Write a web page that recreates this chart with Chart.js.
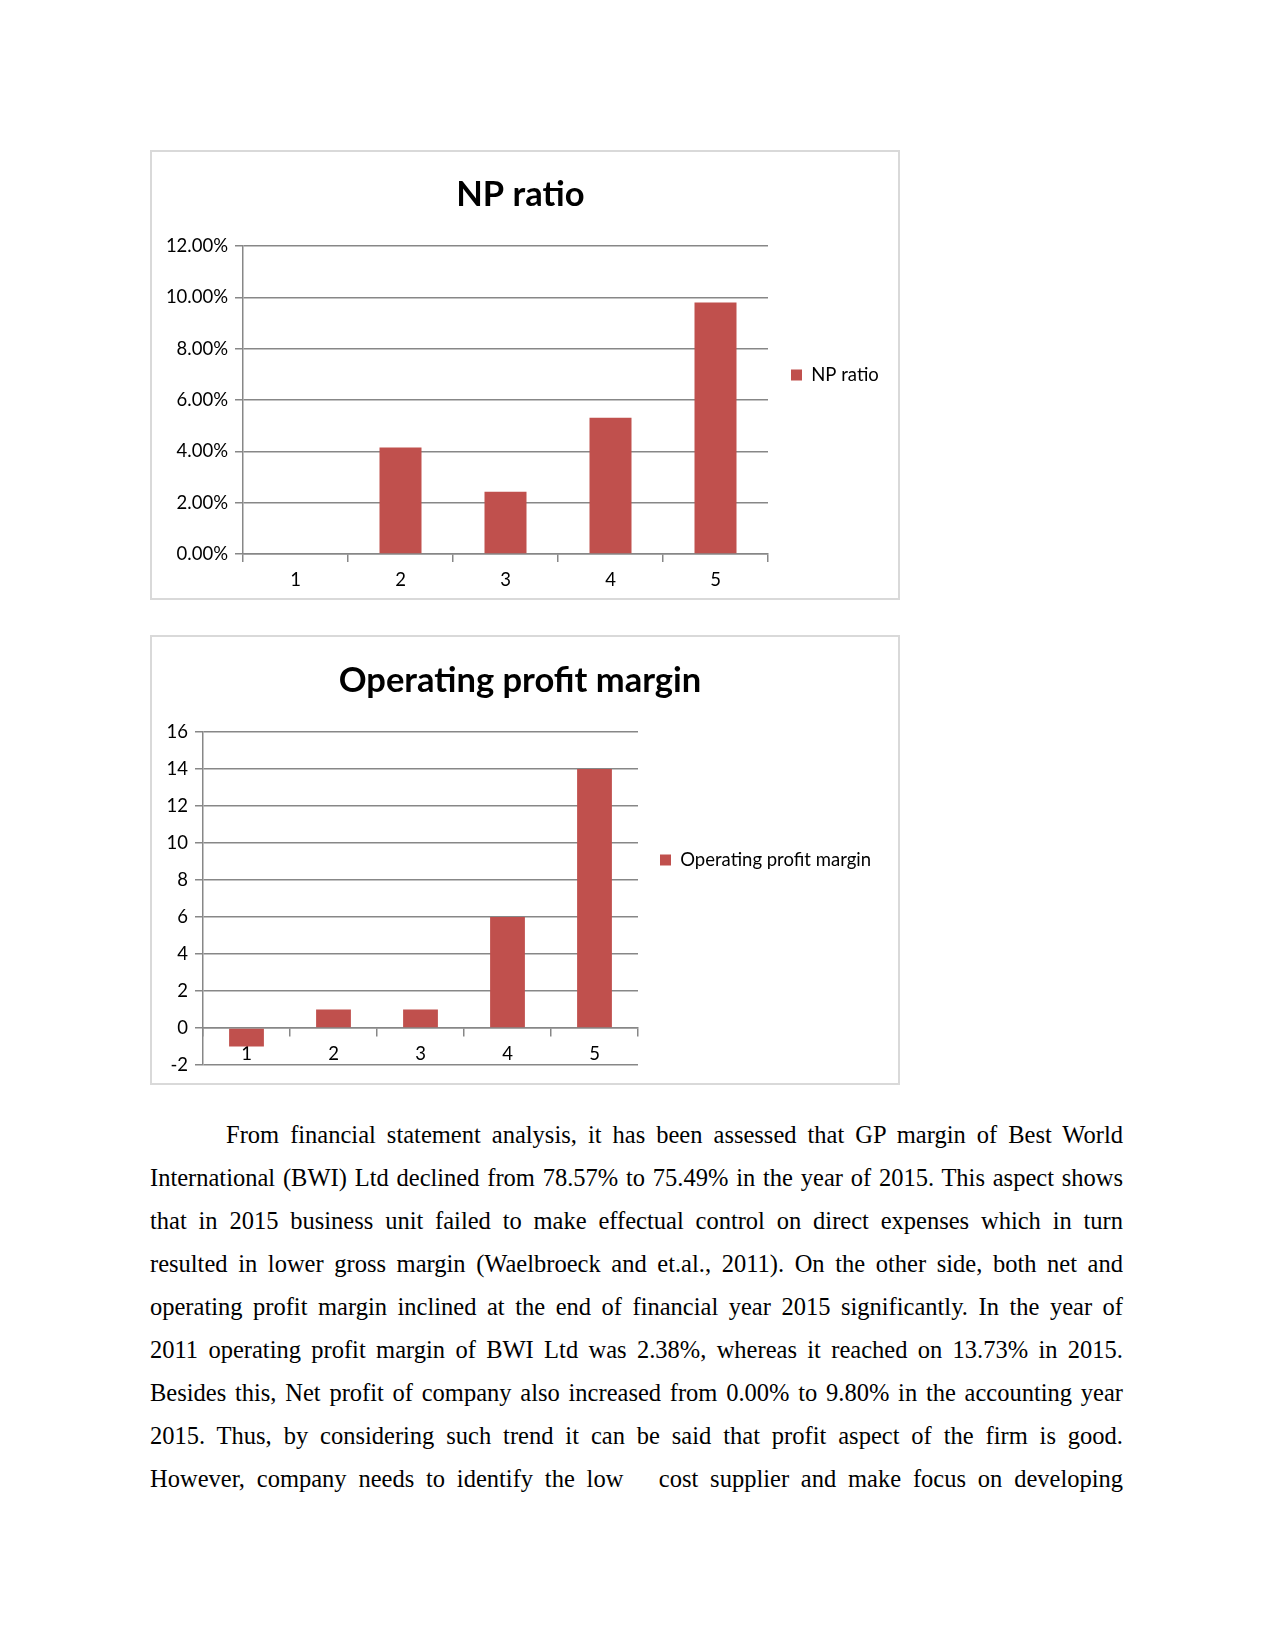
<!DOCTYPE html>
<html>
<head>
<meta charset="utf-8">
<script src="https://cdn.jsdelivr.net/npm/chart.js@4.4.1/dist/chart.umd.min.js"></script>
<style>
  body { margin: 0; background: #fff; width: 1275px; height: 1651px; position: relative; overflow: hidden; }
  .frame { position: absolute; left: 150px; width: 750px; height: 450px; box-sizing: border-box; border: 2px solid #d9d9d9; }
  .frame canvas { position: absolute; left: 0; top: 0; }
  #text { position: absolute; left: 150px; top: 1113px; width: 973px; font-family: "Liberation Serif", "Times New Roman", serif; font-size: 24.5px; line-height: 43px; color: #000; }
  #text div { text-align: justify; text-align-last: justify; }
  #text div.first { text-indent: 76px; }
</style>
</head>
<body>
<div class="frame" style="top:150px"><canvas id="npChart" width="746" height="446"></canvas></div>
<div class="frame" style="top:635px"><canvas id="opmChart" width="746" height="446"></canvas></div>

<div id="text">
  <div class="first">From financial statement analysis, it has been assessed that GP margin of Best World</div>
  <div>International (BWI) Ltd declined from 78.57% to 75.49% in the year of 2015. This aspect shows</div>
  <div>that in 2015 business unit failed to make effectual control on direct expenses which in turn</div>
  <div>resulted in lower gross margin (Waelbroeck and et.al., 2011). On the other side, both net and</div>
  <div>operating profit margin inclined at the end of financial year 2015 significantly. In the year of</div>
  <div>2011 operating profit margin of BWI Ltd was 2.38%, whereas it reached on 13.73% in 2015.</div>
  <div>Besides this, Net profit of company also increased from 0.00% to 9.80% in the accounting year</div>
  <div>2015. Thus, by considering such trend it can be said that profit aspect of the firm is good.</div>
  <div>However, company needs to identify the low&nbsp;&nbsp; cost supplier and make focus on developing</div>
</div>

<script>
// data
const periods = ['1', '2', '3', '4', '5'];
const npRatio = [0, 0.0415, 0.0243, 0.0531, 0.098];
const npTickLabels = ['0.00%', '2.00%', '4.00%', '6.00%', '8.00%', '10.00%', '12.00%'];
const opMargin = [-1, 1, 1, 6, 14];
const opTickLabels = ['-2', '0', '2', '4', '6', '8', '10', '12', '14', '16'];

const barColor = '#C0504D';
const lineColor = '#878787';
const labelFont = { family: 'Lato', size: 18.5 };
const titleFont = { family: 'Lato', size: 34.5, weight: 'bold', lineHeight: 1.2 };
const canvasW = 746;

// right padding so the legend entry starts at a given x inside the canvas
function legendPad(label, itemX) {
    const ctx = document.createElement('canvas').getContext('2d');
    ctx.font = labelFont.size + 'px ' + labelFont.family;
    const itemWidth = 11 + labelFont.size / 2 + ctx.measureText(label).width;
    return canvasW - (itemX + itemWidth + 10);
}

// chart.js caps a side legend at a quarter of the width; let it take what it needs
const wideLegend = {
    id: 'wideLegend',
    beforeLayout(chart) {
        const lg = chart.legend;
        if (lg && !lg._wide) {
            const update = lg.update;
            lg.update = function (maxWidth, maxHeight, margins) {
                update.call(this, Math.max(maxWidth, 400), maxHeight, margins);
            };
            lg._wide = true;
        }
    }
};

function makeChart(id, cfg) {
    const padR = legendPad(cfg.title, cfg.legendX);
    // the title is centred a little left of the frame middle
    const padL = Math.max(0, padR - 10);
    return new Chart(document.getElementById(id), {
        type: 'bar',
        plugins: [wideLegend],
        data: {
            labels: periods,
            datasets: [{
                label: cfg.title,
                data: cfg.values,
                backgroundColor: barColor,
                borderWidth: 0,
                barPercentage: 0.4,
                categoryPercentage: 1
            }]
        },
        options: {
            responsive: false,
            animation: false,
            layout: { padding: { left: padL, top: 0, right: padR, bottom: 0 } },
            plugins: {
                title: {
                    display: true,
                    text: cfg.title,
                    color: '#000',
                    font: titleFont,
                    padding: { top: cfg.titleTop, bottom: cfg.titleBottom }
                },
                legend: {
                    position: 'right',
                    labels: {
                        boxWidth: 11,
                        boxHeight: 11,
                        padding: cfg.legendGap,
                        color: '#000',
                        font: labelFont
                    }
                },
                tooltip: { enabled: false }
            },
            scales: {
                x: {
                    position: cfg.xPosition,
                    z: 1,
                    grid: { offset: true, drawOnChartArea: false, tickLength: 8, color: lineColor, lineWidth: 1.5 },
                    border: { color: lineColor, width: 1.5 },
                    ticks: { color: '#000', font: labelFont, padding: 7 },
                    afterFit: s => { s.height = cfg.xHeight; }
                },
                y: {
                    min: cfg.min,
                    max: cfg.max,
                    ticks: {
                        stepSize: cfg.step,
                        color: '#000',
                        font: labelFont,
                        padding: 7,
                        callback: (v, i) => cfg.tickLabels[i]
                    },
                    grid: { color: lineColor, lineWidth: 1.5, tickLength: 8 },
                    border: { color: lineColor, width: 1.5 },
                    afterFit: s => { s.width = cfg.plotLeft - padL; }
                }
            }
        }
    });
}

makeChart('npChart', {
    title: 'NP ratio', values: npRatio, tickLabels: npTickLabels,
    min: 0, max: 0.12, step: 0.02,
    plotLeft: 91, xHeight: 44, xPosition: 'bottom',
    titleTop: 22.5, titleBottom: 30.1,
    legendX: 639, legendGap: 23
});

makeChart('opmChart', {
    title: 'Operating profit margin', values: opMargin, tickLabels: opTickLabels,
    min: -2, max: 16, step: 2,
    plotLeft: 51, xHeight: 18, xPosition: { y: 0 },
    titleTop: 23.5, titleBottom: 30.1,
    legendX: 508, legendGap: 22
});
</script>
</body>
</html>
